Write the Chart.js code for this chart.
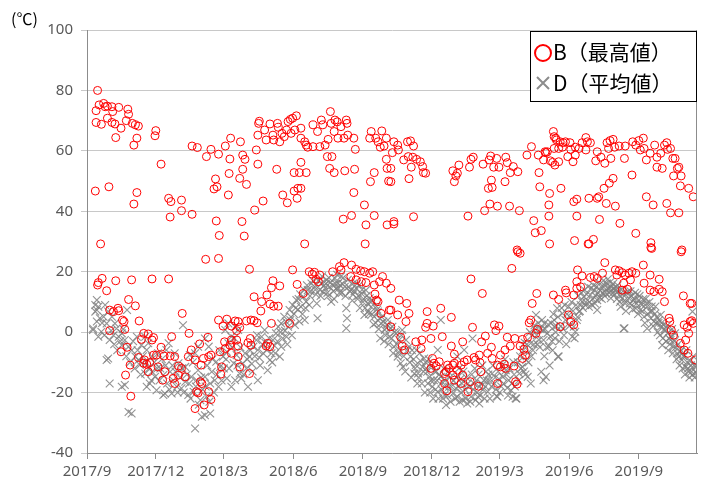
<!DOCTYPE html>
<html>
<head>
<meta charset="utf-8">
<script src="https://cdn.jsdelivr.net/npm/chart.js@4/dist/chart.umd.min.js"></script>
<style>
  html, body { margin: 0; padding: 0; background: #fff; }
  canvas { display: block; }
</style>
</head>
<body>
<canvas id="tempChart" width="709" height="485"></canvas>
<script>
// x = Tage seit 2017/9/1, y = Temperatur (℃)
const tickDays = [0, 91, 181, 273, 365, 456, 546, 638, 730];
const tickLabels = ["2017/9", "2017/12", "2018/3", "2018/6", "2018/9", "2018/12", "2019/3", "2019/6", "2019/9"];
const xMaxDay = 807;
const seriesNames = ["B（最高値）", "D（平均値）"];

// B（最高値）
const maxA = [
  [14,80],[12,73.3],[16,75.2],[22,75.7],[24,74.6],[27,74.8],[33,74.6],[34,73],[42,74.4],[54,73.8],[55,72.1],[12,69.4],[19,68.8],[27,70.8],[33,69.4],[37,68.9],[45,67.5],[52,70],[60,69.1],[64,68.6],[68,68.2],[38,64.4],[66,64.2],[62,61.9],[91,66.7],[90,65],[98,55.6],[139,61.6],[146,61.1],[158,58.1],[164,60.5],[174,58.9],[183,61.6],[190,64.2],[189,57.3],[188,52.5],[170,50.7],[172,48.1],[168,47.4],[187,45.4],[11,46.7],[29,48.1],[66,46.2],[62,42.4],[108,44.3],[111,43.2],[125,43.7],[125,40.2],[139,39],[110,38.1],[171,36.8],[175,32],[18,29.2],
  [15,16.4],[14,15.6],[20,17.8],[26,13.7],[38,17],[59,17.3],[86,17.6],[108,17.6],[157,24.1],[174,24.4],[55,10.8],[64,8.7],[30,7.3],[35,6.8],[41,7.9],[42,7.1],[47,4],[49,3.5],[50,0.9],[69,3.7],[126,6.2],[30,0.5],[45,-6.5],[53,-5],[57,-10.9],[51,-14.2],[58,-21.2],[75,-0.4],[81,-0.6],[72,-2.4],[88,-1.8],[86,-2.6],[98,-5],[112,-1.5],[135,-0.4],[160,-1.7],[149,-3.9],[174,4],[180,2],[185,4.3],[196,3.7],[191,2],[68,-8.4],[76,-9.2],[79,-10.6],[83,-10.1],[88,-7.6],[92,-7.6],[94,-11.5],[102,-7.9],[110,-7.9],[116,-8.1],[121,-11.2],[125,-12],[103,-13.1],[100,-15.9],[114,-15.3],[116,-17],[121,-14.2],[130,-14.8],[134,-8.1],[138,-5.9],[143,-9.2],[151,-10.9],[154,-8.7],[161,-8.1],[164,-7.6],[150,-16.4],[152,-17],[145,-19.7],[147,-20.1],[161,-19.7],[164,-22.3],[155,-24.1],[143,-25.3],[177,-13.9],[178,-11.5],[176,-6.5],[183,-5.4],[182,-3.2],[189,-4.3],[191,-2.6],[191,-7],[200,-4.6],[198,-2.6],[198,0.5],[75,-10.3],[81,-13.1]
];
const maxB = [
  [203,63],[224,60.3],[227,69.1],[228,69.8],[226,65.2],[235,66.9],[237,63.6],[242,68.9],[246,65.2],[247,63.6],[252,69.1],[253,67.8],[255,63],[258,65.8],[261,64.7],[264,66.9],[266,69.7],[269,70.4],[272,70.8],[277,71.6],[270,65.8],[275,66.9],[283,67.5],[283,64.2],[288,63],[290,61.9],[292,61.2],[299,68.6],[299,61.4],[305,66.4],[308,61.4],[310,70.2],[312,68.6],[315,61.9],[319,63.8],[322,73],[323,69.1],[327,66.4],[328,70.2],[331,69.6],[332,64.2],[336,68],[340,64.2],[343,70.2],[344,69.1],[345,65.2],[353,64.2],[355,60.5],[376,66.4],[374,64.2],[382,64.2],[385,63],[390,66.6],[393,61.6],[396,64.2],[388,61.2],
  [206,58.6],[209,57.2],[206,53.9],[202,50.9],[211,48.9],[226,55.6],[251,53.9],[274,52.8],[281,52.8],[290,52.8],[283,56.2],[318,58.1],[324,58.1],[321,54.2],[327,52.8],[341,53.4],[354,53.9],[380,52.8],[375,49.8],[397,54.2],[399,50],[396,57.2],[279,47.6],[283,47.6],[274,46.7],[278,44.3],[259,45.4],[265,42.8],[233,43.4],[222,40.4],[353,46.2],[367,42.1],[380,38.6],[350,38.6],[339,37.4],[369,35.5],[397,35.5],[205,36.6],[208,31.8],[288,29.2],[368,29.2],
  [215,20.8],[272,20.6],[246,17],[255,15.3],[244,14.7],[278,15.8],[286,12.8],[238,12.3],[221,11.7],[231,10.1],[242,9.3],[247,8.6],[253,8.6],[230,7],[217,4],[211,3.7],[221,3.8],[200,3.5],[202,1.6],[225,3.1],[244,2.9],[268,2.9],[216,-2.1],[213,-3.5],[217,-4.3],[239,-3.7],[237,-4.6],[242,-4.8],[200,-8.1],[202,-11.5],[215,-13.7],[294,20],[298,19.2],[301,19.8],[308,18.9],[303,17.5],[306,16.7],[325,20],[334,21.7],[340,23],[336,20.6],[350,22.2],[356,20.8],[362,20.3],[367,20],[374,19.5],[378,20],[349,18.4],[356,17.3],[363,16.7],[369,16.4],[380,15.6],[387,16.7],[391,18.4],[396,16.2],[381,12.6],[385,10.1],[383,10.6],[400,7.3],[389,6.2],[402,1.8]
];
const maxC = [
  [406,63],[411,61.9],[404,59.4],[412,60.3],[402,54.2],[419,57],[425,58.1],[424,63],[428,63.3],[432,61.6],[431,57.9],[436,57.2],[441,56.4],[444,54.8],[445,52.8],[448,52.6],[429,54.6],[426,50.8],[432,38.2],[402,49.8],[484,53.4],[488,51.7],[490,52.6],[486,49.8],[492,55.3],[506,54.6],[508,57.2],[511,57.9],[504,38.4],[524,55.6],[532,57],[534,58.3],[538,54.6],[542,57.5],[545,54.6],[535,50.3],[536,47.9],[531,47.6],[554,57.9],[556,56.1],[560,52.8],[564,54.8],[570,53.1],[553,49.8],[533,42.4],[543,41.7],[559,41.7],[526,40.2],[572,40.2],[582,58.6],[588,61.4],[598,52.8],[599,48.1],[591,36.9],[593,32.9],[601,33.6],[569,27.2],[406,36.6],[406,35.8],[597,58.6],[604,57],
  [570,26.6],[573,26.1],[562,21.1],[508,17.6],[523,12.8],[595,12.8],[589,9.5],[587,4],[585,3.1],[596,0.9],[594,-0.4],[413,10.6],[423,9.5],[426,6.2],[411,5.7],[422,3.5],[402,7.3],[450,6.8],[468,7.9],[482,4.9],[450,2.9],[458,2],[448,1.6],[510,1.6],[539,2.4],[545,2],[541,0.5],[527,-1.3],[522,-3.2],[535,-5],[497,-3.2],[470,-1.5],[482,-4.6],[486,-7.3],[455,-2.1],[443,-2.6],[435,-3.2],[442,-5.4],[415,-1.7],[417,-4.6],[420,-5.9],[556,-1.7],[566,-2.1],[576,-2.4],[583,-1.7],[573,-4.6],[578,-5.7],[560,-4.6],[547,-7.6],[553,-5.9],[457,-8.7],[455,-12],[459,-10.3],[466,-9.8],[477,-10.9],[479,-12],[484,-10.9],[475,-13.1],[490,-12.6],[495,-10.9],[499,-9.8],[503,-9.2],[512,-8.4],[514,-9.2],[520,-10.1],[519,-7.6],[530,-7],[536,-8.7],[543,-10.9],[547,-11.5],[552,-10.6],[554,-12],[565,-11.2],[576,-8.7],[580,-7.6],[476,-19.4],[486,-15.9],[495,-17],[504,-19.7],[507,-16.4],[518,-17.9],[497,-14.2],[473,-17],[543,-17],[567,-16.4],[569,-17.2],[473,-13.7],[462,-11.2],[484,-14.2],[521,-13.1],[486,-10.3],[402,14.5]
];
const maxD = [
  [617,66.4],[620,64.2],[621,63.6],[626,63],[630,62.7],[633,63],[618,60.8],[624,60.8],[629,61.2],[607,59.4],[609,59.7],[613,56.7],[619,55.3],[624,56.4],[639,62.7],[640,60.5],[646,61.2],[651,60.8],[655,62.7],[660,64.4],[662,63],[666,62.7],[660,60.3],[646,58.6],[636,58.1],[643,56.4],[675,59.7],[673,56.7],[680,57.9],[685,55.9],[688,62.7],[692,63.4],[696,63.8],[690,60.8],[698,61.2],[693,57.5],[711,57.5],[704,61.6],[712,61.6],[722,63],[726,61.9],[730,63.4],[736,64.2],[732,60.3],[737,60.8],[740,57],[745,59.2],[751,61.9],[754,57.9],[759,59.2],[764,61.9],[767,62.7],[768,60.5],[772,60.8],[754,54.6],[761,54.2],[775,57.5],[778,57.5],[776,51.7],[781,54.2],[783,54.6],[786,51.7],[785,48.4],[796,47.6],[802,44.8],[721,52],[627,47.6],[740,44.8],[749,42.1],[767,42.6],[772,39.5],[783,39.5],[696,50.9],[691,49.3],[684,47.6],[677,44.8],[675,44.3],[664,44.3],[687,42.6],[699,41.7],[648,44],[644,43.2],[611,42.1],[612,45.9],[648,38.4],[611,38.4],[678,37.3],[705,36],[726,32.7],[645,30.3],[664,29.2],[670,30.7],[612,29.2],[746,29.6],[746,28],[787,27.2],[786,26.6],[747,27.7],[685,23],[736,22.2],[663,29.2],[616,56.2],[618,64.7],[606,59.7],
  [649,20.6],[655,18.6],[666,18.1],[671,18.4],[675,17.8],[682,19.5],[699,20.6],[704,20.3],[708,19.7],[701,18.9],[712,18.9],[717,19.5],[721,20],[726,19.5],[719,17.3],[710,16.2],[715,14.2],[708,13.9],[737,16.2],[745,18.9],[757,17.5],[745,13.9],[750,13.4],[757,14.2],[761,13.4],[764,10.1],[770,4.6],[771,3.5],[773,0.7],[776,-1],[789,12],[798,9.5],[790,2.4],[794,1.6],[798,3.5],[800,3.8],[796,-0.4],[785,-3.7],[790,-5.9],[795,-7],[805,-9.2],[792,-2.6],[617,12.3],[624,10.8],[633,13.9],[634,13],[648,14.5],[644,12.3],[637,5.7],[626,1.8],[644,2.4],[640,3.5],[648,16.7],[653,15],[802,2.9],[800,9.5]
];

// D（平均値）
const avgA = [
  [13,10.6],[15,8.4],[11,6.8],[17,4.6],[8,1.2],[13,3.5],[22,5.1],[26,2.9],[19,0.1],[15,-1.5],[24,9],[28,6.8],[33,5.1],[37,2.9],[39,1.2],[35,-1],[42,-1.5],[30,-2.6],[28,-8.7],[26,-9.2],[46,-0.4],[50,-2.6],[46,-4.3],[55,-4.8],[59,-6],[53,7.3],[30,-17],[46,-18.1],[50,-17.5],[55,-26.4],[59,-26.9],[64,-8.1],[68,-9.2],[66,-1.5],[72,-4.3],[79,-5.9],[70,-10.9],[77,-13.7],[79,-18.1],[86,-13.1],[90,-14.8],[97,-12],[101,-14.2],[103,-20.3],[101,-20.8],[110,-13.1],[114,-15.9],[112,-20.3],[119,-18.1],[125,-18.6],[130,-16.4],[127,2.3],[134,-20.8],[141,-19.7],[143,-31.9],[152,-28],[156,-27.5],[163,-26.9],[150,-22.5],[158,-21.4],[147,-12.6],[156,-14.8],[163,-17],[165,-13.1],[169,-15.9],[174,-18.1],[161,-4.8],[156,-2.1],[171,-9.8],[176,-11.5],[180,-8.1],[185,-6.5],[187,-3.7],[191,-1.5],[185,-15.3],[191,-18.1],[196,-15.9],[194,-10.3],[198,-7.6],[200,0.7],[196,1.8],[183,0.7],[187,2.9],[86,-8.1],[94,-7],[108,-3.7],[105,-5.9],[116,-7],[121,-10.3],[130,-11.5],[136,-7.6],[143,-7],[147,-4.8],[77,-1.5],[81,-3.7],[83,-17],[92,-19.2],[138,-14.8],[145,-15.9],[8,0.7],[11,9],[13,7.3],
  [20,3],[23,-1],[32,0.5],[36,-4],[40,-6],[44,-3],[48,1],[52,-8],[57,-10],[61,-3],[63,-12],[67,-6],[71,-14],[74,-8],[78,-10],[82,-12],[85,-16],[89,-10],[93,-12],[96,-16],[99,-9],[104,-11],[106,-17],[109,-19],[113,-11],[117,-13],[120,-20],[123,-15],[126,-12],[128,-20],[132,-14],[135,-17],[137,-22],[140,-10],[144,-18],[148,-24],[151,-15],[153,-19],[157,-18],[159,-11],[162,-23],[166,-9],[168,-20],[172,-14],[175,-6],[178,-16],[181,-12],[184,-9],[188,-12],[192,-5],[195,-2],[199,-11]
];
const avgB = [
  [202,-13.7],[206,-10.3],[213,-18.1],[209,-7],[215,-8.1],[220,-4.8],[224,-2.6],[226,-5.9],[231,-1.5],[235,0.7],[233,-7],[242,-9.2],[244,-7],[246,-2.6],[250,-0.4],[253,1.8],[257,-4.8],[257,2.9],[261,5.1],[266,1.8],[268,7.3],[272,9],[277,10.6],[281,3.5],[283,8.4],[286,11.7],[290,10.1],[292,13.9],[297,16.1],[301,15],[305,4.6],[310,16.1],[312,13.4],[317,17.3],[321,15],[323,10.1],[328,17.8],[332,16.1],[336,18.4],[341,15],[343,7.9],[344,4.6],[343,1.3],[345,17.3],[352,16.1],[356,14.5],[363,12.8],[367,5.7],[369,13.9],[374,11.2],[376,8.4],[380,5.1],[385,6.8],[389,2.9],[394,0.7],[398,4],[400,-1.5],[288,4],[275,2.4],[255,-8.1],[264,-1.5],[239,-12.6],[226,-15.9],[204,-15.3],
  [295,12],[303,12.5],[308,14],[315,14.5],[319,12],[326,13.5],[330,14.5],[334,13],[338,16],[348,13.5],[352,12.5],[358,11],[360,15.5],[365,10],[371,9.5],[378,10.5],[383,8.5],[387,4.5],[392,3.5],[396,1.5],[279,7.5],[285,6],[270,5],[262,0.5],[248,-4.5],[236,-3.5],[228,-8.5],[218,-10.5],[211,-12],[372,6.8],[401,1.3],
  [203,-5],[207,-14],[212,-9],[216,-6],[219,-13],[222,-8],[225,-1],[229,-11],[232,-4],[238,-6],[241,-2],[245,-10],[249,-7],[252,-3],[256,0],[259,-2],[263,3.5],[265,-4],[269,4],[271,-1],[274,6],[276,8],[280,11],[282,12.5],[287,14],[289,8],[291,15.5],[294,9],[296,13.5],[299,17],[302,14],[304,9.5],[306,17],[309,12],[311,18.5],[314,15.5],[316,16],[318,13],[320,18],[322,16.5],[325,15.5],[327,11],[329,16],[331,19],[333,14.5],[335,15.5],[337,13],[339,18],[342,12],[346,15],[349,14],[351,10.5],[354,13.5],[357,16],[359,12],[361,8],[364,14],[366,11],[368,8],[370,12],[373,6],[375,10],[377,6],[379,2.5],[382,3],[384,7.5],[386,1],[388,-2],[390,5],[393,-3],[395,-1],[397,2.5],[399,-4]
];
const avgC = [
  [404,1.8],[409,-0.4],[413,-2.6],[406,-4.8],[417,0.7],[422,-2.6],[426,-4.8],[411,-8.1],[415,-10.3],[428,-8.1],[433,-13.7],[435,-10.9],[440,-7],[444,-11.5],[446,-8.7],[450,-13.1],[453,-14.8],[457,-18.1],[459,-15.9],[464,-19.7],[468,-14.8],[473,-20.8],[475,-24.1],[479,-18.1],[484,-20.3],[488,-18.6],[490,-21.4],[497,-22.5],[503,-23.6],[508,-21.4],[514,-22.5],[519,-18.1],[519,-23.6],[525,-15.9],[530,-19.7],[536,-13.7],[539,-17],[543,-21.4],[550,-14.8],[554,-12.6],[558,-15.9],[561,-19.2],[563,-21.4],[567,-21.9],[572,-13.7],[576,-11.5],[581,-9.2],[585,-6.5],[587,-3.7],[589,-1],[592,2.3],[594,5.7],[598,-2.6],[603,0.7],[605,2.9],[468,4],[510,-2.1],[499,-5.9],[490,-8.1],[464,-5.9],[437,-17],[473,-18.1],[587,-17],[583,-14.8],
  [412,-7],[418,-11.5],[438,-13.7],[493,-23],[517,-21.4],[542,-21.2],[568,-22],[601,-13.1],[430,-6],[448,-10],[455,-16],[462,-13],[470,-16.5],[480,-15],[494,-15.5],[500,-19],[506,-18],[512,-17],[524,-19],[528,-13],[532,-16],[545,-15.5],[548,-18],[556,-18.5],[565,-14],[570,-10],[578,-13],[590,-6],[596,-4],[600,1],[579,-3.5],
  [403,-2],[405,-7],[407,0],[410,-4],[414,-6],[416,-1],[419,-8],[421,-13],[424,-6],[427,-10],[429,-15],[432,-9],[434,-12],[436,-6],[439,-15],[441,-9.5],[443,-17],[445,-13],[447,-20],[449,-12],[451,-17],[452,-9],[454,-20],[456,-11],[458,-22],[460,-13],[461,-19],[463,-16],[465,-22],[466,-14],[469,-19],[471,-22],[472,-12],[474,-16],[477,-21],[478,-13],[481,-23],[482,-18],[485,-16],[487,-22],[489,-15],[491,-18],[492,-12],[495,-20],[496,-17],[498,-13],[501,-22],[502,-15],[504,-17],[507,-23],[509,-14],[511,-19],[513,-12],[515,-16],[516,-20],[518,-14],[520,-21],[522,-17],[523,-11],[526,-22],[527,-18],[529,-16],[531,-14],[533,-22],[535,-18],[537,-11],[540,-15],[541,-19],[544,-13],[546,-20],[549,-11],[551,-17],[553,-9],[555,-14],[557,-21],[559,-12],[562,-17],[564,-10],[566,-18],[571,-16],[573,-8],[574,-12],[577,-6],[580,-14],[582,-4],[584,-10],[586,0],[588,-8],[591,-4],[593,1],[595,-1],[597,3],[599,-5],[602,4]
];
const avgD = [
  [604,-2.6],[609,-0.4],[613,-1.5],[618,1.8],[611,-4.8],[607,-14.8],[604,-15.9],[624,-8.1],[618,4],[622,7.9],[629,6.2],[633,4],[637,8.4],[642,-1.5],[646,0.1],[644,1.8],[651,6.8],[655,10.1],[657,11.7],[664,8.4],[666,12.3],[671,13.9],[675,10.6],[679,13.9],[684,15.6],[688,16.1],[693,15],[695,12.8],[699,13.9],[704,12.3],[708,11.2],[712,9.5],[717,11.2],[721,9],[726,7.9],[730,10.6],[732,7.3],[737,5.1],[741,8.4],[745,6.8],[750,3.5],[754,5.1],[759,1.8],[761,-4.3],[763,2.4],[768,-0.4],[772,-2.6],[776,-4.8],[781,-7],[783,-8.1],[787,-9.2],[792,-11.5],[796,-13.1],[801,-14.2],[805,-13.1],[801,6.8],[710,1.2],[741,1.2],[778,-0.4],[759,5.7],[693,11.2],[706,8.4],[675,7.3],
  [615,-3],[620,0],[627,2],[631,-1],[639,5],[648,4],[653,9],[660,10],[668,9],[673,12],[681,11],[686,13],[690,14.5],[697,14.5],[702,15.5],[714,13],[719,13.5],[724,11],[728,12.5],[734,9],[739,11],[748,7],[752,8.5],[756,3],[765,0.5],[770,-2],[774,1],[779,-5],[785,-6.5],[789,-8],[794,-10],[798,-9.5],[803,-11],[806,-13.5],[623,-8.1],[711,1.3],
  [605,-8],[606,1],[608,-5],[610,2.5],[612,-11],[614,3],[616,-6],[617,6],[619,-2],[621,2],[623,5],[625,-3],[628,8],[630,1],[632,9],[634,-4],[635,6],[638,2],[641,10],[643,7],[645,-2],[647,9],[649,5],[650,12],[652,7],[654,13],[656,8],[658,14],[659,9],[661,12.5],[663,15],[665,10],[667,14.5],[669,11],[670,15.5],[672,9.5],[674,15],[676,13],[677,16.5],[678,11.5],[680,15],[682,13],[683,17],[685,12],[687,14],[689,17.5],[691,13],[692,16.5],[694,14],[696,16],[698,12.5],[700,15],[701,11],[703,13.5],[705,10],[707,14],[709,12.5],[711,10.5],[713,7],[716,13.5],[718,9.5],[720,12],[722,7.5],[723,10.5],[725,13],[727,9.5],[729,6],[731,12],[733,9.5],[735,7],[736,11],[738,3],[740,9.5],[742,6],[744,10],[746,4.5],[747,8.5],[749,2],[751,6],[753,3],[755,0],[757,4],[758,-1],[760,3],[762,-2],[764,1],[766,-3],[767,2],[769,-6],[771,-4],[773,-1.5],[775,-7],[777,-3],[780,-9],[782,-4],[784,-11],[786,-6],[788,-12],[790,-8],[791,-14],[793,-6],[795,-12],[797,-15],[799,-11],[800,-13],[802,-8],[804,-15],[806,-11]
];

const toXY = (arr) => arr.map(([x, y]) => ({ x, y }));
const maxPoints = toXY([...maxA, ...maxB, ...maxC, ...maxD]);
const avgPoints = toXY([...avgA, ...avgB, ...avgC, ...avgD]);

const GRID = "#c8c8c8";
const AXIS = "#8c8c8c";
const TICK_TXT = "#595959";
const NUM_FONT = { family: "'Noto Sans', 'DejaVu Sans', sans-serif", size: 15 };

// Rahmen rechts + Legende im Kasten + Einheit
const decor = {
  id: "decor",
  afterDatasetsDraw(chart) {
    const { ctx, chartArea: a } = chart;
    ctx.save();
    ctx.strokeStyle = AXIS;
    ctx.lineWidth = 1;
    ctx.beginPath();
    ctx.moveTo(a.right - 0.5, a.top);
    ctx.lineTo(a.right - 0.5, a.bottom);
    ctx.stroke();

    // Legende
    const bx = 530.5, by = 31.5, bw = 166, bh = 70;
    ctx.fillStyle = "#fff";
    ctx.fillRect(bx, by, bw, bh);
    ctx.strokeStyle = "#000";
    ctx.strokeRect(bx, by, bw, bh);

    ctx.strokeStyle = "#ff0000";
    ctx.lineWidth = 2;
    ctx.beginPath();
    ctx.arc(543, 53, 8, 0, Math.PI * 2);
    ctx.stroke();

    ctx.strokeStyle = "#8c8c8c";
    ctx.lineWidth = 2;
    ctx.beginPath();
    ctx.moveTo(537, 77); ctx.lineTo(549, 89);
    ctx.moveTo(549, 77); ctx.lineTo(537, 89);
    ctx.stroke();

    ctx.fillStyle = "#000";
    ctx.font = "21px 'Noto Sans CJK JP', sans-serif";
    ctx.textBaseline = "middle";
    ctx.textAlign = "left";
    ctx.fillText(seriesNames[0], 553, 52);
    ctx.fillText(seriesNames[1], 553, 83);

    // Einheit
    ctx.font = "16px 'Noto Sans CJK JP', sans-serif";
    ctx.fillText("(℃)", 11, 19);
    ctx.restore();
  }
};

new Chart(document.getElementById("tempChart").getContext("2d"), {
  type: "scatter",
  data: {
    datasets: [
      {
        label: seriesNames[0],
        data: maxPoints,
        pointStyle: "circle",
        pointRadius: 4,
        pointHoverRadius: 4,
        borderColor: "#ff0000",
        borderWidth: 1,
        backgroundColor: "rgba(0,0,0,0)",
      },
      {
        label: seriesNames[1],
        data: avgPoints,
        pointStyle: "crossRot",
        pointRadius: 5.5,
        pointHoverRadius: 5.5,
        borderColor: "rgba(128,128,128,0.85)",
        borderWidth: 1.1,
        backgroundColor: "rgba(0,0,0,0)",
      },
    ],
  },
  options: {
    responsive: false,
    animation: false,
    layout: { padding: { top: 30, right: 12, left: 0, bottom: 0 } },
    plugins: { legend: { display: false }, tooltip: { enabled: false } },
    scales: {
      x: {
        type: "linear",
        min: 0,
        max: xMaxDay,
        afterBuildTicks: (scale) => {
          scale.ticks = tickDays.map((v) => ({ value: v }));
        },
        afterFit: (scale) => { scale.height = 32; },
        ticks: {
          autoSkip: false,
          maxRotation: 0,
          padding: 4,
          color: TICK_TXT,
          font: NUM_FONT,
          callback: (v, i) => tickLabels[i],
        },
        grid: { drawOnChartArea: false, drawTicks: true, tickLength: 6, color: AXIS },
        border: { color: AXIS },
      },
      y: {
        min: -40,
        max: 100,
        afterFit: (scale) => { scale.width = 87; },
        ticks: { stepSize: 20, padding: 8, color: TICK_TXT, font: NUM_FONT },
        grid: { color: GRID, tickLength: 6 },
        border: { color: AXIS },
      },
    },
  },
  plugins: [decor],
});
</script>
</body>
</html>
